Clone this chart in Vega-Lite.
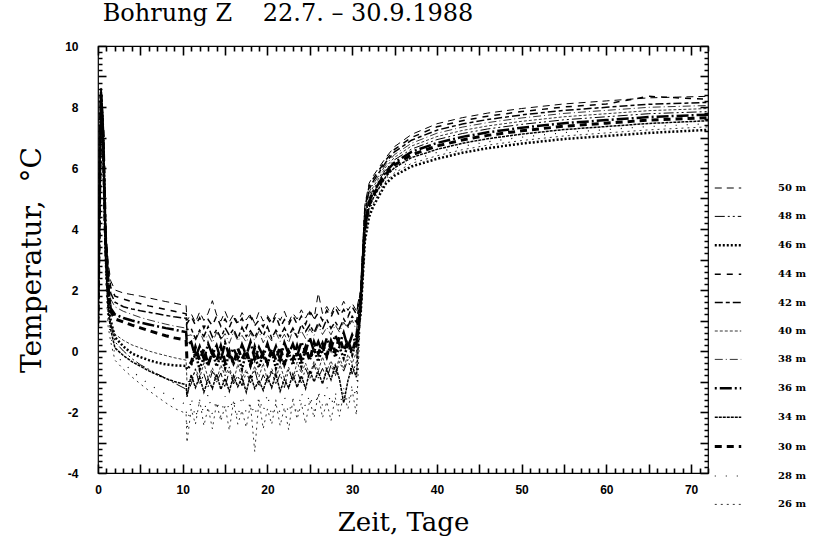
{
"$schema": "https://vega.github.io/schema/vega-lite/v6.json",
"width": 610, "height": 427,
"autosize": {"type": "none"},
"padding": {"left": 98, "top": 46, "right": 109, "bottom": 69},
"background": "white",
"title": {"text": "Bohrung Z\u00a0\u00a0\u00a0\u00a022.7. \u2013 30.9.1988", "anchor": "start", "font": "DejaVu Serif", "fontSize": 24, "fontWeight": "normal", "color": "black", "offset": 14, "dx": 84},
"config": {"view": {"stroke": "black", "strokeWidth": 1.2}},
"data": {"values": [
{"s":"50 m","t":0,"v":1.3},{"s":"50 m","t":0.35,"v":8.7},{"s":"50 m","t":0.6,"v":7.6},{"s":"50 m","t":0.9,"v":4.2},{"s":"50 m","t":1.2,"v":2.9},{"s":"50 m","t":1.5,"v":2.3},{"s":"50 m","t":2,"v":2.0},{"s":"50 m","t":3,"v":1.9},{"s":"50 m","t":4,"v":1.85},{"s":"50 m","t":5,"v":1.8},{"s":"50 m","t":6,"v":1.74},{"s":"50 m","t":7,"v":1.68},{"s":"50 m","t":8,"v":1.62},{"s":"50 m","t":9,"v":1.57},{"s":"50 m","t":10.4,"v":1.49},{"s":"50 m","t":10.5,"v":1.0},
{"s":"50 m","t":11,"v":1.22},{"s":"50 m","t":11.5,"v":0.94},{"s":"50 m","t":12,"v":1.28},{"s":"50 m","t":12.5,"v":1.0},{"s":"50 m","t":13,"v":1.24},{"s":"50 m","t":13.5,"v":1.65},{"s":"50 m","t":14,"v":1.18},{"s":"50 m","t":14.5,"v":0.98},{"s":"50 m","t":15,"v":1.3},{"s":"50 m","t":15.5,"v":0.96},{"s":"50 m","t":16,"v":1.2},{"s":"50 m","t":16.5,"v":0.92},{"s":"50 m","t":17,"v":1.26},{"s":"50 m","t":17.5,"v":1.02},{"s":"50 m","t":18,"v":1.22},{"s":"50 m","t":18.5,"v":0.9},{"s":"50 m","t":19,"v":1.28},{"s":"50 m","t":19.5,"v":0.98},{"s":"50 m","t":20,"v":1.16},{"s":"50 m","t":20.5,"v":0.94},{"s":"50 m","t":21,"v":1.24},{"s":"50 m","t":21.5,"v":1.0},{"s":"50 m","t":22,"v":1.3},{"s":"50 m","t":22.5,"v":0.94},{"s":"50 m","t":23,"v":1.23},{"s":"50 m","t":23.5,"v":1.05},{"s":"50 m","t":24,"v":1.35},{"s":"50 m","t":24.5,"v":1.08},{"s":"50 m","t":25,"v":1.34},{"s":"50 m","t":25.5,"v":1.06},{"s":"50 m","t":26,"v":1.9},{"s":"50 m","t":26.5,"v":1.23},{"s":"50 m","t":27,"v":1.46},{"s":"50 m","t":27.5,"v":1.2},{"s":"50 m","t":28,"v":1.52},{"s":"50 m","t":28.5,"v":1.31},{"s":"50 m","t":29,"v":1.63},{"s":"50 m","t":29.5,"v":1.33},{"s":"50 m","t":30,"v":1.56},{"s":"50 m","t":30.5,"v":1.32},
{"s":"50 m","t":31,"v":2.0},{"s":"50 m","t":31.5,"v":4.8},{"s":"50 m","t":32,"v":5.5},{"s":"50 m","t":32.5,"v":5.75},{"s":"50 m","t":33,"v":5.95},{"s":"50 m","t":34,"v":6.35},{"s":"50 m","t":35,"v":6.7},{"s":"50 m","t":37,"v":7.1},{"s":"50 m","t":40,"v":7.45},{"s":"50 m","t":43,"v":7.65},{"s":"50 m","t":46,"v":7.8},{"s":"50 m","t":50,"v":7.95},{"s":"50 m","t":55,"v":8.1},{"s":"50 m","t":60,"v":8.2},{"s":"50 m","t":65,"v":8.3},{"s":"50 m","t":72,"v":8.35},

{"s":"44 m","t":0,"v":1.2},{"s":"44 m","t":0.35,"v":8.6},{"s":"44 m","t":0.6,"v":7.5},{"s":"44 m","t":0.9,"v":4.0},{"s":"44 m","t":1.2,"v":2.7},{"s":"44 m","t":1.5,"v":2.1},{"s":"44 m","t":2,"v":1.8},{"s":"44 m","t":3,"v":1.7},{"s":"44 m","t":4,"v":1.62},{"s":"44 m","t":5,"v":1.55},{"s":"44 m","t":6,"v":1.48},{"s":"44 m","t":7,"v":1.42},{"s":"44 m","t":8,"v":1.36},{"s":"44 m","t":9,"v":1.3},{"s":"44 m","t":10.4,"v":1.22},{"s":"44 m","t":10.5,"v":0.9},
{"s":"44 m","t":11,"v":1.13},{"s":"44 m","t":11.5,"v":0.85},{"s":"44 m","t":12,"v":1.09},{"s":"44 m","t":12.5,"v":0.75},{"s":"44 m","t":13,"v":1.03},{"s":"44 m","t":13.5,"v":0.83},{"s":"44 m","t":14,"v":1.15},{"s":"44 m","t":14.5,"v":0.81},{"s":"44 m","t":15,"v":1.05},{"s":"44 m","t":15.5,"v":0.77},{"s":"44 m","t":16,"v":1.11},{"s":"44 m","t":16.5,"v":0.87},{"s":"44 m","t":17,"v":1.07},{"s":"44 m","t":17.5,"v":0.75},{"s":"44 m","t":18,"v":1.13},{"s":"44 m","t":18.5,"v":0.83},{"s":"44 m","t":19,"v":1.01},{"s":"44 m","t":19.5,"v":0.79},{"s":"44 m","t":20,"v":1.09},{"s":"44 m","t":20.5,"v":0.85},{"s":"44 m","t":21,"v":1.15},{"s":"44 m","t":21.5,"v":0.77},{"s":"44 m","t":22,"v":1.03},{"s":"44 m","t":22.5,"v":0.85},{"s":"44 m","t":23,"v":1.16},{"s":"44 m","t":23.5,"v":0.88},{"s":"44 m","t":24,"v":1.14},{"s":"44 m","t":24.5,"v":0.87},{"s":"44 m","t":25,"v":1.27},{"s":"44 m","t":25.5,"v":1.03},{"s":"44 m","t":26,"v":1.26},{"s":"44 m","t":26.5,"v":1.0},{"s":"44 m","t":27,"v":1.33},{"s":"44 m","t":27.5,"v":1.11},{"s":"44 m","t":28,"v":1.43},{"s":"44 m","t":28.5,"v":1.14},{"s":"44 m","t":29,"v":1.36},{"s":"44 m","t":29.5,"v":1.12},{"s":"44 m","t":30,"v":1.45},{"s":"44 m","t":30.5,"v":1.21},
{"s":"44 m","t":31,"v":1.93},{"s":"44 m","t":31.5,"v":4.69},{"s":"44 m","t":32,"v":5.4},{"s":"44 m","t":32.5,"v":5.66},{"s":"44 m","t":33,"v":5.86},{"s":"44 m","t":34,"v":6.27},{"s":"44 m","t":35,"v":6.61},{"s":"44 m","t":37,"v":7.0},{"s":"44 m","t":40,"v":7.35},{"s":"44 m","t":43,"v":7.55},{"s":"44 m","t":46,"v":7.7},{"s":"44 m","t":50,"v":7.85},{"s":"44 m","t":55,"v":8.0},{"s":"44 m","t":60,"v":8.1},{"s":"44 m","t":65,"v":8.35},{"s":"44 m","t":72,"v":8.25},

{"s":"42 m","t":0,"v":1.1},{"s":"42 m","t":0.35,"v":8.6},{"s":"42 m","t":0.6,"v":7.4},{"s":"42 m","t":0.9,"v":3.9},{"s":"42 m","t":1.2,"v":2.5},{"s":"42 m","t":1.5,"v":1.9},{"s":"42 m","t":2,"v":1.6},{"s":"42 m","t":3,"v":1.45},{"s":"42 m","t":4,"v":1.38},{"s":"42 m","t":5,"v":1.32},{"s":"42 m","t":6,"v":1.27},{"s":"42 m","t":7,"v":1.22},{"s":"42 m","t":8,"v":1.17},{"s":"42 m","t":9,"v":1.12},{"s":"42 m","t":10.4,"v":1.07},{"s":"42 m","t":10.5,"v":0.7},
{"s":"42 m","t":11,"v":0.74},{"s":"42 m","t":11.5,"v":0.4},{"s":"42 m","t":12,"v":0.68},{"s":"42 m","t":12.5,"v":0.48},{"s":"42 m","t":13,"v":0.8},{"s":"42 m","t":13.5,"v":0.46},{"s":"42 m","t":14,"v":0.7},{"s":"42 m","t":14.5,"v":0.42},{"s":"42 m","t":15,"v":0.76},{"s":"42 m","t":15.5,"v":0.52},{"s":"42 m","t":16,"v":0.72},{"s":"42 m","t":16.5,"v":0.4},{"s":"42 m","t":17,"v":0.78},{"s":"42 m","t":17.5,"v":0.48},{"s":"42 m","t":18,"v":0.66},{"s":"42 m","t":18.5,"v":0.44},{"s":"42 m","t":19,"v":0.74},{"s":"42 m","t":19.5,"v":0.5},{"s":"42 m","t":20,"v":0.8},{"s":"42 m","t":20.5,"v":0.42},{"s":"42 m","t":21,"v":0.68},{"s":"42 m","t":21.5,"v":0.48},{"s":"42 m","t":22,"v":0.76},{"s":"42 m","t":22.5,"v":0.48},{"s":"42 m","t":23,"v":0.75},{"s":"42 m","t":23.5,"v":0.47},{"s":"42 m","t":24,"v":0.87},{"s":"42 m","t":24.5,"v":0.64},{"s":"42 m","t":25,"v":0.86},{"s":"42 m","t":25.5,"v":0.6},{"s":"42 m","t":26,"v":0.93},{"s":"42 m","t":26.5,"v":0.71},{"s":"42 m","t":27,"v":1.04},{"s":"42 m","t":27.5,"v":0.74},{"s":"42 m","t":28,"v":0.96},{"s":"42 m","t":28.5,"v":0.73},{"s":"42 m","t":29,"v":1.05},{"s":"42 m","t":29.5,"v":0.81},{"s":"42 m","t":30,"v":1.14},{"s":"42 m","t":30.5,"v":0.94},
{"s":"42 m","t":31,"v":1.85},{"s":"42 m","t":31.5,"v":4.58},{"s":"42 m","t":32,"v":5.3},{"s":"42 m","t":32.5,"v":5.57},{"s":"42 m","t":33,"v":5.78},{"s":"42 m","t":34,"v":6.2},{"s":"42 m","t":35,"v":6.53},{"s":"42 m","t":37,"v":6.91},{"s":"42 m","t":40,"v":7.24},{"s":"42 m","t":43,"v":7.44},{"s":"42 m","t":46,"v":7.59},{"s":"42 m","t":50,"v":7.74},{"s":"42 m","t":55,"v":7.89},{"s":"42 m","t":60,"v":7.99},{"s":"42 m","t":65,"v":8.09},{"s":"42 m","t":72,"v":8.15},

{"s":"38 m","t":0,"v":1.0},{"s":"38 m","t":0.35,"v":8.5},{"s":"38 m","t":0.6,"v":7.3},{"s":"38 m","t":0.9,"v":3.7},{"s":"38 m","t":1.2,"v":2.3},{"s":"38 m","t":1.5,"v":1.7},{"s":"38 m","t":2,"v":1.45},{"s":"38 m","t":3,"v":1.3},{"s":"38 m","t":4,"v":1.2},{"s":"38 m","t":5,"v":1.1},{"s":"38 m","t":6,"v":1.02},{"s":"38 m","t":7,"v":0.95},{"s":"38 m","t":8,"v":0.88},{"s":"38 m","t":9,"v":0.82},{"s":"38 m","t":10.4,"v":0.75},{"s":"38 m","t":10.5,"v":0.5},
{"s":"38 m","t":11,"v":0.53},{"s":"38 m","t":11.5,"v":0.33},{"s":"38 m","t":12,"v":0.65},{"s":"38 m","t":12.5,"v":0.31},{"s":"38 m","t":13,"v":0.55},{"s":"38 m","t":13.5,"v":0.27},{"s":"38 m","t":14,"v":0.61},{"s":"38 m","t":14.5,"v":0.37},{"s":"38 m","t":15,"v":0.57},{"s":"38 m","t":15.5,"v":0.25},{"s":"38 m","t":16,"v":0.63},{"s":"38 m","t":16.5,"v":0.33},{"s":"38 m","t":17,"v":0.51},{"s":"38 m","t":17.5,"v":0.29},{"s":"38 m","t":18,"v":0.59},{"s":"38 m","t":18.5,"v":0.35},{"s":"38 m","t":19,"v":0.65},{"s":"38 m","t":19.5,"v":0.27},{"s":"38 m","t":20,"v":0.53},{"s":"38 m","t":20.5,"v":0.33},{"s":"38 m","t":21,"v":0.61},{"s":"38 m","t":21.5,"v":0.31},{"s":"38 m","t":22,"v":0.55},{"s":"38 m","t":22.5,"v":0.27},{"s":"38 m","t":23,"v":0.68},{"s":"38 m","t":23.5,"v":0.44},{"s":"38 m","t":24,"v":0.66},{"s":"38 m","t":24.5,"v":0.41},{"s":"38 m","t":25,"v":0.73},{"s":"38 m","t":25.5,"v":0.51},{"s":"38 m","t":26,"v":0.84},{"s":"38 m","t":26.5,"v":0.54},{"s":"38 m","t":27,"v":0.77},{"s":"38 m","t":27.5,"v":0.53},{"s":"38 m","t":28,"v":0.85},{"s":"38 m","t":28.5,"v":0.62},{"s":"38 m","t":29,"v":0.94},{"s":"38 m","t":29.5,"v":0.74},{"s":"38 m","t":30,"v":1.01},{"s":"38 m","t":30.5,"v":0.69},
{"s":"38 m","t":31,"v":1.78},{"s":"38 m","t":31.5,"v":4.47},{"s":"38 m","t":32,"v":5.2},{"s":"38 m","t":32.5,"v":5.48},{"s":"38 m","t":33,"v":5.69},{"s":"38 m","t":34,"v":6.12},{"s":"38 m","t":35,"v":6.44},{"s":"38 m","t":37,"v":6.81},{"s":"38 m","t":40,"v":7.14},{"s":"38 m","t":43,"v":7.34},{"s":"38 m","t":46,"v":7.49},{"s":"38 m","t":50,"v":7.64},{"s":"38 m","t":55,"v":7.79},{"s":"38 m","t":60,"v":7.89},{"s":"38 m","t":65,"v":7.99},{"s":"38 m","t":72,"v":8.05},

{"s":"36 m","t":0,"v":0.9},{"s":"36 m","t":0.35,"v":8.5},{"s":"36 m","t":0.6,"v":7.2},{"s":"36 m","t":0.9,"v":3.6},{"s":"36 m","t":1.2,"v":2.1},{"s":"36 m","t":1.5,"v":1.4},{"s":"36 m","t":2,"v":1.2},{"s":"36 m","t":3,"v":1.08},{"s":"36 m","t":4,"v":1.0},{"s":"36 m","t":5,"v":0.93},{"s":"36 m","t":6,"v":0.87},{"s":"36 m","t":7,"v":0.81},{"s":"36 m","t":8,"v":0.75},{"s":"36 m","t":9,"v":0.7},{"s":"36 m","t":10.4,"v":0.62},{"s":"36 m","t":10.5,"v":0.2},
{"s":"36 m","t":11,"v":0.3},{"s":"36 m","t":11.5,"v":-0.21},{"s":"36 m","t":12,"v":0.15},{"s":"36 m","t":12.5,"v":-0.27},{"s":"36 m","t":13,"v":0.24},{"s":"36 m","t":13.5,"v":-0.12},{"s":"36 m","t":14,"v":0.18},{"s":"36 m","t":14.5,"v":-0.3},{"s":"36 m","t":15,"v":0.27},{"s":"36 m","t":15.5,"v":-0.18},{"s":"36 m","t":16,"v":0.09},{"s":"36 m","t":16.5,"v":-0.24},{"s":"36 m","t":17,"v":0.21},{"s":"36 m","t":17.5,"v":-0.15},{"s":"36 m","t":18,"v":0.3},{"s":"36 m","t":18.5,"v":-0.27},{"s":"36 m","t":19,"v":0.12},{"s":"36 m","t":19.5,"v":-0.18},{"s":"36 m","t":20,"v":0.24},{"s":"36 m","t":20.5,"v":-0.21},{"s":"36 m","t":21,"v":0.15},{"s":"36 m","t":21.5,"v":-0.3},{"s":"36 m","t":22,"v":0.27},{"s":"36 m","t":22.5,"v":-0.1},{"s":"36 m","t":23,"v":0.23},{"s":"36 m","t":23.5,"v":-0.17},{"s":"36 m","t":24,"v":0.3},{"s":"36 m","t":24.5,"v":-0.03},{"s":"36 m","t":25,"v":0.44},{"s":"36 m","t":25.5,"v":-0.02},{"s":"36 m","t":26,"v":0.31},{"s":"36 m","t":26.5,"v":-0.06},{"s":"36 m","t":27,"v":0.42},{"s":"36 m","t":27.5,"v":0.05},{"s":"36 m","t":28,"v":0.52},{"s":"36 m","t":28.5,"v":0.22},{"s":"36 m","t":29,"v":0.6},{"s":"36 m","t":29.5,"v":0.11},{"s":"36 m","t":30,"v":0.53},{"s":"36 m","t":30.5,"v":0.22},
{"s":"36 m","t":31,"v":1.56},{"s":"36 m","t":31.5,"v":4.15},{"s":"36 m","t":32,"v":4.9},{"s":"36 m","t":32.5,"v":5.2},{"s":"36 m","t":33,"v":5.43},{"s":"36 m","t":34,"v":5.89},{"s":"36 m","t":35,"v":6.18},{"s":"36 m","t":37,"v":6.53},{"s":"36 m","t":40,"v":6.82},{"s":"36 m","t":43,"v":7.02},{"s":"36 m","t":46,"v":7.17},{"s":"36 m","t":50,"v":7.32},{"s":"36 m","t":55,"v":7.47},{"s":"36 m","t":60,"v":7.57},{"s":"36 m","t":65,"v":7.67},{"s":"36 m","t":72,"v":7.75},

{"s":"30 m","t":0,"v":0.9},{"s":"30 m","t":0.35,"v":8.4},{"s":"30 m","t":0.6,"v":7.1},{"s":"30 m","t":0.9,"v":3.5},{"s":"30 m","t":1.2,"v":2.0},{"s":"30 m","t":1.5,"v":1.3},{"s":"30 m","t":2,"v":1.05},{"s":"30 m","t":3,"v":0.95},{"s":"30 m","t":4,"v":0.85},{"s":"30 m","t":5,"v":0.76},{"s":"30 m","t":6,"v":0.67},{"s":"30 m","t":7,"v":0.58},{"s":"30 m","t":8,"v":0.5},{"s":"30 m","t":9,"v":0.43},{"s":"30 m","t":10.4,"v":0.36},{"s":"30 m","t":10.5,"v":-0.3},
{"s":"30 m","t":11,"v":-0.39},{"s":"30 m","t":11.5,"v":0.12},{"s":"30 m","t":12,"v":-0.3},{"s":"30 m","t":12.5,"v":0.06},{"s":"30 m","t":13,"v":-0.45},{"s":"30 m","t":13.5,"v":-0.03},{"s":"30 m","t":14,"v":-0.33},{"s":"30 m","t":14.5,"v":0.15},{"s":"30 m","t":15,"v":-0.36},{"s":"30 m","t":15.5,"v":0.0},{"s":"30 m","t":16,"v":-0.42},{"s":"30 m","t":16.5,"v":0.09},{"s":"30 m","t":17,"v":-0.27},{"s":"30 m","t":17.5,"v":0.03},{"s":"30 m","t":18,"v":-0.45},{"s":"30 m","t":18.5,"v":0.12},{"s":"30 m","t":19,"v":-0.33},{"s":"30 m","t":19.5,"v":-0.06},{"s":"30 m","t":20,"v":-0.39},{"s":"30 m","t":20.5,"v":0.06},{"s":"30 m","t":21,"v":-0.3},{"s":"30 m","t":21.5,"v":0.15},{"s":"30 m","t":22,"v":-0.42},{"s":"30 m","t":22.5,"v":-0.01},{"s":"30 m","t":23,"v":-0.28},{"s":"30 m","t":23.5,"v":0.16},{"s":"30 m","t":24,"v":-0.27},{"s":"30 m","t":24.5,"v":0.12},{"s":"30 m","t":25,"v":-0.31},{"s":"30 m","t":25.5,"v":0.28},{"s":"30 m","t":26,"v":-0.08},{"s":"30 m","t":26.5,"v":0.24},{"s":"30 m","t":27,"v":-0.15},{"s":"30 m","t":27.5,"v":0.32},{"s":"30 m","t":28,"v":-0.02},{"s":"30 m","t":28.5,"v":0.46},{"s":"30 m","t":29,"v":0.0},{"s":"30 m","t":29.5,"v":0.32},{"s":"30 m","t":30,"v":-0.04},{"s":"30 m","t":30.5,"v":0.43},
{"s":"30 m","t":31,"v":1.49},{"s":"30 m","t":31.5,"v":4.04},{"s":"30 m","t":32,"v":4.8},{"s":"30 m","t":32.5,"v":5.11},{"s":"30 m","t":33,"v":5.35},{"s":"30 m","t":34,"v":5.81},{"s":"30 m","t":35,"v":6.1},{"s":"30 m","t":37,"v":6.43},{"s":"30 m","t":40,"v":6.72},{"s":"30 m","t":43,"v":6.92},{"s":"30 m","t":46,"v":7.07},{"s":"30 m","t":50,"v":7.22},{"s":"30 m","t":55,"v":7.37},{"s":"30 m","t":60,"v":7.47},{"s":"30 m","t":65,"v":7.57},{"s":"30 m","t":72,"v":7.65},

{"s":"46 m","t":0,"v":0.8},{"s":"46 m","t":0.35,"v":8.4},{"s":"46 m","t":0.6,"v":7.0},{"s":"46 m","t":0.9,"v":3.3},{"s":"46 m","t":1.2,"v":1.7},{"s":"46 m","t":1.5,"v":1.0},{"s":"46 m","t":2,"v":0.45},{"s":"46 m","t":3,"v":0.15},{"s":"46 m","t":4,"v":-0.08},{"s":"46 m","t":5,"v":-0.2},{"s":"46 m","t":6,"v":-0.3},{"s":"46 m","t":7,"v":-0.38},{"s":"46 m","t":8,"v":-0.44},{"s":"46 m","t":9,"v":-0.47},{"s":"46 m","t":10.4,"v":-0.49},{"s":"46 m","t":10.5,"v":-0.6},
{"s":"46 m","t":11,"v":-0.45},{"s":"46 m","t":11.5,"v":-0.09},{"s":"46 m","t":12,"v":-0.6},{"s":"46 m","t":12.5,"v":-0.18},{"s":"46 m","t":13,"v":-0.48},{"s":"46 m","t":13.5,"v":0.0},{"s":"46 m","t":14,"v":-0.51},{"s":"46 m","t":14.5,"v":-0.15},{"s":"46 m","t":15,"v":-0.57},{"s":"46 m","t":15.5,"v":-0.06},{"s":"46 m","t":16,"v":-0.42},{"s":"46 m","t":16.5,"v":-0.12},{"s":"46 m","t":17,"v":-0.6},{"s":"46 m","t":17.5,"v":-0.03},{"s":"46 m","t":18,"v":-0.48},{"s":"46 m","t":18.5,"v":-0.21},{"s":"46 m","t":19,"v":-0.54},{"s":"46 m","t":19.5,"v":-0.09},{"s":"46 m","t":20,"v":-0.45},{"s":"46 m","t":20.5,"v":0.0},{"s":"46 m","t":21,"v":-0.57},{"s":"46 m","t":21.5,"v":-0.18},{"s":"46 m","t":22,"v":-0.48},{"s":"46 m","t":22.5,"v":-0.04},{"s":"46 m","t":23,"v":-0.46},{"s":"46 m","t":23.5,"v":-0.08},{"s":"46 m","t":24,"v":-0.51},{"s":"46 m","t":24.5,"v":0.09},{"s":"46 m","t":25,"v":-0.28},{"s":"46 m","t":25.5,"v":0.04},{"s":"46 m","t":26,"v":-0.35},{"s":"46 m","t":26.5,"v":0.12},{"s":"46 m","t":27,"v":-0.21},{"s":"46 m","t":27.5,"v":0.26},{"s":"46 m","t":28,"v":-0.2},{"s":"46 m","t":28.5,"v":0.13},{"s":"46 m","t":29,"v":-0.24},{"s":"46 m","t":29.5,"v":0.23},{"s":"46 m","t":30,"v":-0.13},{"s":"46 m","t":30.5,"v":0.34},
{"s":"46 m","t":31,"v":1.2},{"s":"46 m","t":31.5,"v":3.6},{"s":"46 m","t":32,"v":4.4},{"s":"46 m","t":32.5,"v":4.75},{"s":"46 m","t":33,"v":5.0},{"s":"46 m","t":34,"v":5.5},{"s":"46 m","t":35,"v":5.75},{"s":"46 m","t":37,"v":6.05},{"s":"46 m","t":40,"v":6.3},{"s":"46 m","t":43,"v":6.5},{"s":"46 m","t":46,"v":6.65},{"s":"46 m","t":50,"v":6.8},{"s":"46 m","t":55,"v":6.95},{"s":"46 m","t":60,"v":7.05},{"s":"46 m","t":65,"v":7.15},{"s":"46 m","t":72,"v":7.25},

{"s":"40 m","t":0,"v":0.8},{"s":"40 m","t":0.35,"v":8.3},{"s":"40 m","t":0.6,"v":6.9},{"s":"40 m","t":0.9,"v":3.2},{"s":"40 m","t":1.2,"v":1.6},{"s":"40 m","t":1.5,"v":0.9},{"s":"40 m","t":2,"v":0.55},{"s":"40 m","t":3,"v":0.35},{"s":"40 m","t":4,"v":0.2},{"s":"40 m","t":5,"v":0.1},{"s":"40 m","t":6,"v":0.0},{"s":"40 m","t":7,"v":-0.08},{"s":"40 m","t":8,"v":-0.15},{"s":"40 m","t":9,"v":-0.22},{"s":"40 m","t":10.4,"v":-0.3},{"s":"40 m","t":10.5,"v":-1.0},
{"s":"40 m","t":11,"v":-1.0},{"s":"40 m","t":11.5,"v":-0.58},{"s":"40 m","t":12,"v":-0.88},{"s":"40 m","t":12.5,"v":-0.4},{"s":"40 m","t":13,"v":-0.91},{"s":"40 m","t":13.5,"v":-0.55},{"s":"40 m","t":14,"v":-0.97},{"s":"40 m","t":14.5,"v":-0.46},{"s":"40 m","t":15,"v":-0.82},{"s":"40 m","t":15.5,"v":-0.52},{"s":"40 m","t":16,"v":-1.0},{"s":"40 m","t":16.5,"v":-0.43},{"s":"40 m","t":17,"v":-0.88},{"s":"40 m","t":17.5,"v":-0.61},{"s":"40 m","t":18,"v":-0.94},{"s":"40 m","t":18.5,"v":-0.49},{"s":"40 m","t":19,"v":-0.85},{"s":"40 m","t":19.5,"v":-0.4},{"s":"40 m","t":20,"v":-0.97},{"s":"40 m","t":20.5,"v":-0.58},{"s":"40 m","t":21,"v":-0.88},{"s":"40 m","t":21.5,"v":-0.46},{"s":"40 m","t":22,"v":-0.91},{"s":"40 m","t":22.5,"v":-0.53},{"s":"40 m","t":23,"v":-0.95},{"s":"40 m","t":23.5,"v":-0.36},{"s":"40 m","t":24,"v":-0.73},{"s":"40 m","t":24.5,"v":-0.4},{"s":"40 m","t":25,"v":-0.8},{"s":"40 m","t":25.5,"v":-0.33},{"s":"40 m","t":26,"v":-0.66},{"s":"40 m","t":26.5,"v":-0.19},{"s":"40 m","t":27,"v":-0.64},{"s":"40 m","t":27.5,"v":-0.32},{"s":"40 m","t":28,"v":-0.69},{"s":"40 m","t":28.5,"v":-0.21},{"s":"40 m","t":29,"v":-0.58},{"s":"40 m","t":29.5,"v":-0.11},{"s":"40 m","t":30,"v":-0.41},{"s":"40 m","t":30.5,"v":-0.03},
{"s":"40 m","t":31,"v":1.71},{"s":"40 m","t":31.5,"v":4.36},{"s":"40 m","t":32,"v":5.1},{"s":"40 m","t":32.5,"v":5.39},{"s":"40 m","t":33,"v":5.6},{"s":"40 m","t":34,"v":6.04},{"s":"40 m","t":35,"v":6.35},{"s":"40 m","t":37,"v":6.72},{"s":"40 m","t":40,"v":7.03},{"s":"40 m","t":43,"v":7.23},{"s":"40 m","t":46,"v":7.38},{"s":"40 m","t":50,"v":7.53},{"s":"40 m","t":55,"v":7.68},{"s":"40 m","t":60,"v":7.78},{"s":"40 m","t":65,"v":7.88},{"s":"40 m","t":72,"v":7.95},

{"s":"48 m","t":0,"v":0.7},{"s":"48 m","t":0.35,"v":8.3},{"s":"48 m","t":0.6,"v":6.8},{"s":"48 m","t":0.9,"v":3.1},{"s":"48 m","t":1.2,"v":1.5},{"s":"48 m","t":1.5,"v":0.9},{"s":"48 m","t":2,"v":0.3},{"s":"48 m","t":3,"v":0.0},{"s":"48 m","t":4,"v":-0.25},{"s":"48 m","t":5,"v":-0.45},{"s":"48 m","t":6,"v":-0.6},{"s":"48 m","t":7,"v":-0.75},{"s":"48 m","t":8,"v":-0.9},{"s":"48 m","t":9,"v":-1.05},{"s":"48 m","t":10.4,"v":-1.25},{"s":"48 m","t":10.5,"v":-1.4},
{"s":"48 m","t":11,"v":-1.08},{"s":"48 m","t":11.5,"v":-0.6},{"s":"48 m","t":12,"v":-1.11},{"s":"48 m","t":12.5,"v":-0.75},{"s":"48 m","t":13,"v":-1.17},{"s":"48 m","t":13.5,"v":-0.66},{"s":"48 m","t":14,"v":-1.02},{"s":"48 m","t":14.5,"v":-0.72},{"s":"48 m","t":15,"v":-1.2},{"s":"48 m","t":15.5,"v":-0.63},{"s":"48 m","t":16,"v":-1.08},{"s":"48 m","t":16.5,"v":-0.81},{"s":"48 m","t":17,"v":-1.14},{"s":"48 m","t":17.5,"v":-0.69},{"s":"48 m","t":18,"v":-1.05},{"s":"48 m","t":18.5,"v":-0.6},{"s":"48 m","t":19,"v":-1.17},{"s":"48 m","t":19.5,"v":-0.78},{"s":"48 m","t":20,"v":-1.08},{"s":"48 m","t":20.5,"v":-0.66},{"s":"48 m","t":21,"v":-1.11},{"s":"48 m","t":21.5,"v":-0.75},{"s":"48 m","t":22,"v":-1.2},{"s":"48 m","t":22.5,"v":-0.61},{"s":"48 m","t":23,"v":-0.97},{"s":"48 m","t":23.5,"v":-0.65},{"s":"48 m","t":24,"v":-1.05},{"s":"48 m","t":24.5,"v":-0.57},{"s":"48 m","t":25,"v":-0.91},{"s":"48 m","t":25.5,"v":-0.44},{"s":"48 m","t":26,"v":-0.89},{"s":"48 m","t":26.5,"v":-0.57},{"s":"48 m","t":27,"v":-0.93},{"s":"48 m","t":27.5,"v":-0.46},{"s":"48 m","t":28,"v":-0.83},{"s":"48 m","t":28.5,"v":-0.35},{"s":"48 m","t":29,"v":-0.66},{"s":"48 m","t":29.5,"v":-0.28},{"s":"48 m","t":30,"v":-0.76},{"s":"48 m","t":30.5,"v":-0.35},
{"s":"48 m","t":31,"v":1.64},{"s":"48 m","t":31.5,"v":4.25},{"s":"48 m","t":32,"v":5.0},{"s":"48 m","t":32.5,"v":5.3},{"s":"48 m","t":33,"v":5.52},{"s":"48 m","t":34,"v":5.96},{"s":"48 m","t":35,"v":6.27},{"s":"48 m","t":37,"v":6.62},{"s":"48 m","t":40,"v":6.93},{"s":"48 m","t":43,"v":7.13},{"s":"48 m","t":46,"v":7.28},{"s":"48 m","t":50,"v":7.43},{"s":"48 m","t":55,"v":7.58},{"s":"48 m","t":60,"v":7.68},{"s":"48 m","t":65,"v":7.78},{"s":"48 m","t":72,"v":7.85},

{"s":"34 m","t":0,"v":0.6},{"s":"34 m","t":0.35,"v":8.2},{"s":"34 m","t":0.6,"v":6.6},{"s":"34 m","t":0.9,"v":2.9},{"s":"34 m","t":1.2,"v":1.3},{"s":"34 m","t":1.5,"v":0.7},{"s":"34 m","t":2,"v":0.1},{"s":"34 m","t":3,"v":-0.15},{"s":"34 m","t":4,"v":-0.35},{"s":"34 m","t":5,"v":-0.5},{"s":"34 m","t":6,"v":-0.65},{"s":"34 m","t":7,"v":-0.78},{"s":"34 m","t":8,"v":-0.9},{"s":"34 m","t":9,"v":-1.0},{"s":"34 m","t":10.4,"v":-1.1},{"s":"34 m","t":10.5,"v":-1.5},
{"s":"34 m","t":11,"v":-0.78},{"s":"34 m","t":11.5,"v":-1.2},{"s":"34 m","t":12,"v":-0.84},{"s":"34 m","t":12.5,"v":-1.35},{"s":"34 m","t":13,"v":-0.93},{"s":"34 m","t":13.5,"v":-1.23},{"s":"34 m","t":14,"v":-0.75},{"s":"34 m","t":14.5,"v":-1.26},{"s":"34 m","t":15,"v":-0.9},{"s":"34 m","t":15.5,"v":-1.32},{"s":"34 m","t":16,"v":-0.81},{"s":"34 m","t":16.5,"v":-1.17},{"s":"34 m","t":17,"v":-0.87},{"s":"34 m","t":17.5,"v":-1.35},{"s":"34 m","t":18,"v":-0.78},{"s":"34 m","t":18.5,"v":-1.23},{"s":"34 m","t":19,"v":-0.96},{"s":"34 m","t":19.5,"v":-1.29},{"s":"34 m","t":20,"v":-0.84},{"s":"34 m","t":20.5,"v":-1.2},{"s":"34 m","t":21,"v":-0.75},{"s":"34 m","t":21.5,"v":-1.32},{"s":"34 m","t":22,"v":-0.93},{"s":"34 m","t":22.5,"v":-1.21},{"s":"34 m","t":23,"v":-0.76},{"s":"34 m","t":23.5,"v":-1.19},{"s":"34 m","t":24,"v":-0.81},{"s":"34 m","t":24.5,"v":-1.23},{"s":"34 m","t":25,"v":-0.64},{"s":"34 m","t":25.5,"v":-1.01},{"s":"34 m","t":26,"v":-0.68},{"s":"34 m","t":26.5,"v":-1.08},{"s":"34 m","t":27,"v":-0.6},{"s":"34 m","t":27.5,"v":-0.94},{"s":"34 m","t":28,"v":-0.47},{"s":"34 m","t":28.5,"v":-0.92},{"s":"34 m","t":29,"v":-1.7},{"s":"34 m","t":29.5,"v":-0.97},{"s":"34 m","t":30,"v":-0.49},{"s":"34 m","t":30.5,"v":-0.86},
{"s":"34 m","t":31,"v":1.42},{"s":"34 m","t":31.5,"v":3.93},{"s":"34 m","t":32,"v":4.7},{"s":"34 m","t":32.5,"v":5.02},{"s":"34 m","t":33,"v":5.26},{"s":"34 m","t":34,"v":5.73},{"s":"34 m","t":35,"v":6.01},{"s":"34 m","t":37,"v":6.34},{"s":"34 m","t":40,"v":6.61},{"s":"34 m","t":43,"v":6.81},{"s":"34 m","t":46,"v":6.96},{"s":"34 m","t":50,"v":7.11},{"s":"34 m","t":55,"v":7.26},{"s":"34 m","t":60,"v":7.36},{"s":"34 m","t":65,"v":7.46},{"s":"34 m","t":72,"v":7.55},

{"s":"28 m","t":0,"v":0.5},{"s":"28 m","t":0.35,"v":8.0},{"s":"28 m","t":0.6,"v":6.3},{"s":"28 m","t":0.9,"v":2.6},{"s":"28 m","t":1.2,"v":1.0},{"s":"28 m","t":1.5,"v":0.5},{"s":"28 m","t":2,"v":-0.1},{"s":"28 m","t":3,"v":-0.4},{"s":"28 m","t":4,"v":-0.65},{"s":"28 m","t":5,"v":-0.88},{"s":"28 m","t":6,"v":-1.08},{"s":"28 m","t":7,"v":-1.26},{"s":"28 m","t":8,"v":-1.42},{"s":"28 m","t":9,"v":-1.58},{"s":"28 m","t":10.4,"v":-1.75},{"s":"28 m","t":10.5,"v":-2.6},
{"s":"28 m","t":11,"v":-1.52},{"s":"28 m","t":11.5,"v":-2.2},{"s":"28 m","t":12,"v":-1.64},{"s":"28 m","t":12.5,"v":-2.04},{"s":"28 m","t":13,"v":-1.4},{"s":"28 m","t":13.5,"v":-2.08},{"s":"28 m","t":14,"v":-1.6},{"s":"28 m","t":14.5,"v":-2.16},{"s":"28 m","t":15,"v":-1.48},{"s":"28 m","t":15.5,"v":-1.96},{"s":"28 m","t":16,"v":-1.56},{"s":"28 m","t":16.5,"v":-2.2},{"s":"28 m","t":17,"v":-1.44},{"s":"28 m","t":17.5,"v":-2.04},{"s":"28 m","t":18,"v":-1.68},{"s":"28 m","t":18.5,"v":-2.12},{"s":"28 m","t":19,"v":-1.52},{"s":"28 m","t":19.5,"v":-2.0},{"s":"28 m","t":20,"v":-1.4},{"s":"28 m","t":20.5,"v":-2.16},{"s":"28 m","t":21,"v":-1.64},{"s":"28 m","t":21.5,"v":-2.04},{"s":"28 m","t":22,"v":-1.48},{"s":"28 m","t":22.5,"v":-2.06},{"s":"28 m","t":23,"v":-1.55},{"s":"28 m","t":23.5,"v":-2.13},{"s":"28 m","t":24,"v":-1.35},{"s":"28 m","t":24.5,"v":-1.84},{"s":"28 m","t":25,"v":-1.42},{"s":"28 m","t":25.5,"v":-1.96},{"s":"28 m","t":26,"v":-1.33},{"s":"28 m","t":26.5,"v":-1.79},{"s":"28 m","t":27,"v":-1.16},{"s":"28 m","t":27.5,"v":-1.78},{"s":"28 m","t":28,"v":-1.36},{"s":"28 m","t":28.5,"v":-1.85},{"s":"28 m","t":29,"v":-1.23},{"s":"28 m","t":29.5,"v":-1.73},{"s":"28 m","t":30,"v":-1.1},{"s":"28 m","t":30.5,"v":-1.52},
{"s":"28 m","t":31,"v":1.35},{"s":"28 m","t":31.5,"v":3.82},{"s":"28 m","t":32,"v":4.6},{"s":"28 m","t":32.5,"v":4.93},{"s":"28 m","t":33,"v":5.17},{"s":"28 m","t":34,"v":5.65},{"s":"28 m","t":35,"v":5.92},{"s":"28 m","t":37,"v":6.24},{"s":"28 m","t":40,"v":6.51},{"s":"28 m","t":43,"v":6.71},{"s":"28 m","t":46,"v":6.86},{"s":"28 m","t":50,"v":7.01},{"s":"28 m","t":55,"v":7.16},{"s":"28 m","t":60,"v":7.26},{"s":"28 m","t":65,"v":7.36},{"s":"28 m","t":72,"v":7.45},

{"s":"26 m","t":0,"v":0.4},{"s":"26 m","t":0.35,"v":7.8},{"s":"26 m","t":0.6,"v":6.0},{"s":"26 m","t":0.9,"v":2.3},{"s":"26 m","t":1.2,"v":0.8},{"s":"26 m","t":1.5,"v":0.3},{"s":"26 m","t":2,"v":-0.3},{"s":"26 m","t":3,"v":-0.6},{"s":"26 m","t":4,"v":-0.85},{"s":"26 m","t":5,"v":-1.08},{"s":"26 m","t":6,"v":-1.3},{"s":"26 m","t":7,"v":-1.5},{"s":"26 m","t":8,"v":-1.7},{"s":"26 m","t":9,"v":-1.88},{"s":"26 m","t":10.4,"v":-2.05},{"s":"26 m","t":10.5,"v":-3.0},
{"s":"26 m","t":11,"v":-1.9},{"s":"26 m","t":11.5,"v":-2.4},{"s":"26 m","t":12,"v":-1.6},{"s":"26 m","t":12.5,"v":-2.45},{"s":"26 m","t":13,"v":-1.85},{"s":"26 m","t":13.5,"v":-2.55},{"s":"26 m","t":14,"v":-1.7},{"s":"26 m","t":14.5,"v":-2.3},{"s":"26 m","t":15,"v":-1.8},{"s":"26 m","t":15.5,"v":-2.6},{"s":"26 m","t":16,"v":-1.65},{"s":"26 m","t":16.5,"v":-2.4},{"s":"26 m","t":17,"v":-1.95},{"s":"26 m","t":17.5,"v":-2.5},{"s":"26 m","t":18,"v":-1.75},{"s":"26 m","t":18.5,"v":-3.3},{"s":"26 m","t":19,"v":-1.6},{"s":"26 m","t":19.5,"v":-2.55},{"s":"26 m","t":20,"v":-1.9},{"s":"26 m","t":20.5,"v":-2.4},{"s":"26 m","t":21,"v":-1.7},{"s":"26 m","t":21.5,"v":-2.45},{"s":"26 m","t":22,"v":-1.85},{"s":"26 m","t":22.5,"v":-2.58},{"s":"26 m","t":23,"v":-1.6},{"s":"26 m","t":23.5,"v":-2.23},{"s":"26 m","t":24,"v":-1.71},{"s":"26 m","t":24.5,"v":-2.38},{"s":"26 m","t":25,"v":-1.61},{"s":"26 m","t":25.5,"v":-2.19},{"s":"26 m","t":26,"v":-1.41},{"s":"26 m","t":26.5,"v":-2.19},{"s":"26 m","t":27,"v":-1.66},{"s":"26 m","t":27.5,"v":-2.29},{"s":"26 m","t":28,"v":-1.52},{"s":"26 m","t":28.5,"v":-2.14},{"s":"26 m","t":29,"v":-1.37},{"s":"26 m","t":29.5,"v":-1.9},{"s":"26 m","t":30,"v":-1.27},{"s":"26 m","t":30.5,"v":-2.1},
{"s":"26 m","t":31,"v":1.27},{"s":"26 m","t":31.5,"v":3.71},{"s":"26 m","t":32,"v":4.5},{"s":"26 m","t":32.5,"v":4.84},{"s":"26 m","t":33,"v":5.09},{"s":"26 m","t":34,"v":5.58},{"s":"26 m","t":35,"v":5.84},{"s":"26 m","t":37,"v":6.15},{"s":"26 m","t":40,"v":6.4},{"s":"26 m","t":43,"v":6.6},{"s":"26 m","t":46,"v":6.75},{"s":"26 m","t":50,"v":6.9},{"s":"26 m","t":55,"v":7.05},{"s":"26 m","t":60,"v":7.15},{"s":"26 m","t":65,"v":7.25},{"s":"26 m","t":72,"v":7.35}
]},
"layer": [
{"mark": {"type": "line", "color": "black", "clip": true},
 "encoding": {
  "x": {"field": "t", "type": "quantitative", "scale": {"domain": [0, 72], "nice": false, "zero": false},
    "axis": {"orient": "bottom", "offset": -9, "domain": false, "values": [0,1,2,3,4,5,6,7,8,9,10,11,12,13,14,15,16,17,18,19,20,21,22,23,24,25,26,27,28,29,30,31,32,33,34,35,36,37,38,39,40,41,42,43,44,45,46,47,48,49,50,51,52,53,54,55,56,57,58,59,60,61,62,63,64,65,66,67,68,69,70,71,72],
      "ticks": true, "tickSize": 9, "tickCap": "butt",
      "tickDash": {"condition": {"test": "datum.value % 5 === 0", "value": [20, 0]}, "value": [0, 4, 5, 100]},
      "labelExpr": "datum.value % 10 === 0 && datum.value < 72 ? '' + round(datum.value) : ''",
      "labelOverlap": false, "labelFlush": false, "grid": false,
      "labelFont": "Liberation Sans", "labelFontWeight": "bold", "labelFontSize": 12, "labelColor": "black", "labelPadding": 11,
      "tickColor": "black", "tickWidth": 1.6,
      "title": "Zeit, Tage", "titleFont": "DejaVu Serif", "titleFontSize": 26, "titleFontWeight": "normal", "titleColor": "black", "titlePadding": 14}},
  "y": {"field": "v", "type": "quantitative", "scale": {"domain": [-4, 10], "nice": false, "zero": false},
    "axis": {"orient": "left", "offset": -8, "domain": false, "values": [-4,-3.8,-3.6,-3.4,-3.2,-3,-2.8,-2.6,-2.4,-2.2,-2,-1.8,-1.6,-1.4,-1.2,-1,-0.8,-0.6,-0.4,-0.2,0,0.2,0.4,0.6,0.8,1,1.2,1.4,1.6,1.8,2,2.2,2.4,2.6,2.8,3,3.2,3.4,3.6,3.8,4,4.2,4.4,4.6,4.8,5,5.2,5.4,5.6,5.8,6,6.2,6.4,6.6,6.8,7,7.2,7.4,7.6,7.8,8,8.2,8.4,8.6,8.8,9,9.2,9.4,9.6,9.8,10],
      "ticks": true, "tickSize": 8, "tickCap": "butt",
      "tickDash": {"condition": {"test": "abs(datum.value - round(datum.value)) < 0.01", "value": [20, 0]}, "value": [0, 4, 4, 100]},
      "labelExpr": "abs(datum.value - 2*round(datum.value/2)) < 0.01 ? '' + round(datum.value) : ''",
      "labelOverlap": false, "labelFlush": false, "grid": false,
      "labelFont": "Liberation Sans", "labelFontWeight": "bold", "labelFontSize": 12, "labelColor": "black", "labelPadding": 20,
      "tickColor": "black", "tickWidth": 1.6,
      "title": "Temperatur,\u00a0 \u00b0C", "titleFont": "DejaVu Serif", "titleFontSize": 28, "titleFontWeight": "normal", "titleColor": "black", "titlePadding": 18}},
  "strokeDash": {"field": "s", "type": "nominal",
    "scale": {"domain": ["50 m","48 m","46 m","44 m","42 m","40 m","38 m","36 m","34 m","30 m","28 m","26 m"],
      "range": [[7,5],[10,3,2,3,2,3],[2,2],[6,6],[8,3,4,3],[3,2],[8,3,1,3],[2,3,12,3],[3,1],[7,5],[1,10],[2,4]]},
    "legend": {"orient": "none", "legendX": 615, "legendY": 128, "title": null, "symbolType": "stroke", "symbolSize": 700, "symbolStrokeColor": "black",
      "labelFont": "DejaVu Serif", "labelFontSize": 10, "labelFontWeight": "bold", "labelColor": "black", "labelOffset": 35, "rowPadding": 9.4}},
  "strokeWidth": {"field": "s", "type": "nominal",
    "scale": {"type": "ordinal", "domain": ["50 m","48 m","46 m","44 m","42 m","40 m","38 m","36 m","34 m","30 m","28 m","26 m"],
      "range": [1,1,2.5,1.5,1.5,0.8,0.8,2.5,1.5,3,1.2,0.8]},
    "legend": {"orient": "none", "legendX": 615, "legendY": 128, "title": null, "symbolType": "stroke", "symbolSize": 700, "symbolStrokeColor": "black",
      "labelFont": "DejaVu Serif", "labelFontSize": 10, "labelFontWeight": "bold", "labelColor": "black", "labelOffset": 35, "rowPadding": 9.4}},
  "order": {"field": "t", "type": "quantitative"}
 }},
{"mark": {"type": "line", "opacity": 0},
 "encoding": {
  "x": {"field": "t", "type": "quantitative", "scale": {"domain": [0, 72], "nice": false, "zero": false},
    "axis": {"orient": "top", "offset": -9, "domain": false, "values": [0,1,2,3,4,5,6,7,8,9,10,11,12,13,14,15,16,17,18,19,20,21,22,23,24,25,26,27,28,29,30,31,32,33,34,35,36,37,38,39,40,41,42,43,44,45,46,47,48,49,50,51,52,53,54,55,56,57,58,59,60,61,62,63,64,65,66,67,68,69,70,71,72],
      "ticks": true, "tickSize": 9, "tickCap": "butt",
      "tickDash": {"condition": {"test": "datum.value % 5 === 0", "value": [20, 0]}, "value": [0, 4, 5, 100]},
      "labels": false, "grid": false, "title": null, "tickColor": "black", "tickWidth": 1.6}},
  "y": {"field": "v", "type": "quantitative", "scale": {"domain": [-4, 10], "nice": false, "zero": false},
    "axis": {"orient": "right", "offset": -8, "domain": false, "values": [-4,-3.8,-3.6,-3.4,-3.2,-3,-2.8,-2.6,-2.4,-2.2,-2,-1.8,-1.6,-1.4,-1.2,-1,-0.8,-0.6,-0.4,-0.2,0,0.2,0.4,0.6,0.8,1,1.2,1.4,1.6,1.8,2,2.2,2.4,2.6,2.8,3,3.2,3.4,3.6,3.8,4,4.2,4.4,4.6,4.8,5,5.2,5.4,5.6,5.8,6,6.2,6.4,6.6,6.8,7,7.2,7.4,7.6,7.8,8,8.2,8.4,8.6,8.8,9,9.2,9.4,9.6,9.8,10],
      "ticks": true, "tickSize": 8, "tickCap": "butt",
      "tickDash": {"condition": {"test": "abs(datum.value - round(datum.value)) < 0.01", "value": [20, 0]}, "value": [0, 4, 4, 100]},
      "labels": false, "grid": false, "title": null, "tickColor": "black", "tickWidth": 1.6}},
  "detail": {"field": "s", "type": "nominal"},
  "order": {"field": "t", "type": "quantitative"}
 }}
],
"resolve": {"axis": {"x": "independent", "y": "independent"}}
}
